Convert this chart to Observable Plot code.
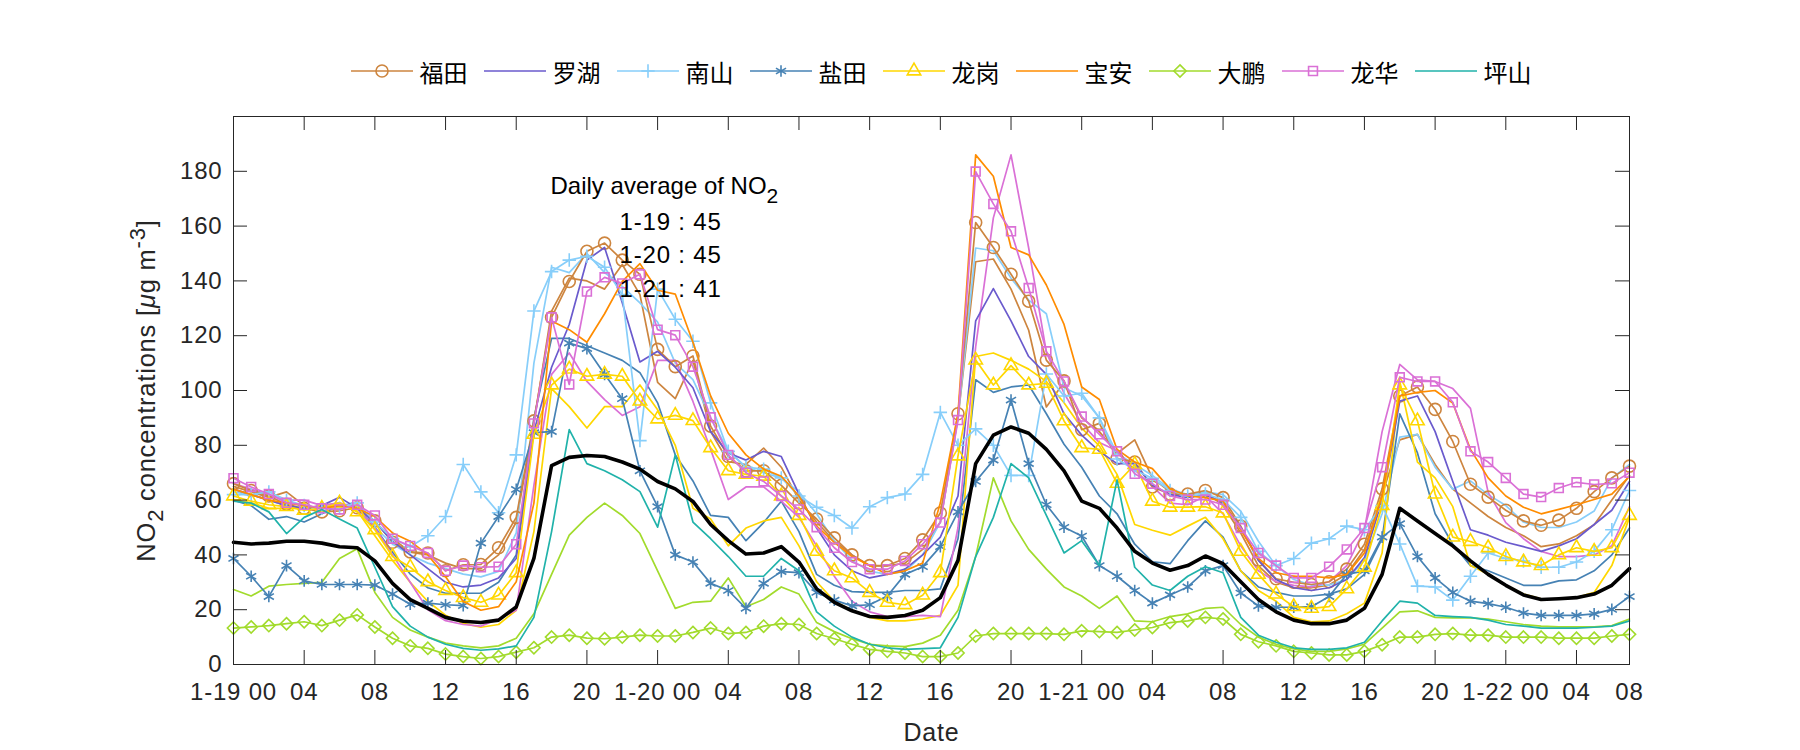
<!DOCTYPE html>
<html><head><meta charset="utf-8">
<script src="https://cdn.jsdelivr.net/npm/d3@7"></script>
<script src="https://cdn.jsdelivr.net/npm/@observablehq/plot@0.6"></script>
<style>
body{margin:0;background:#fff;}
#wrap{position:relative;width:1800px;height:750px;overflow:hidden;}
#legend{position:absolute;top:59px;left:243px;width:1396px;height:24px;display:flex;justify-content:center;align-items:center;font-family:"Noto Sans CJK SC",sans-serif;font-size:24px;color:#000;}
.item{display:flex;align-items:center;margin:0 8px;}
.item svg{margin-right:7px;display:block;}
#chart{position:absolute;top:0;left:0;}
</style></head><body><div id="wrap"><div id="chart"></div><div id="legend"></div></div>
<script>
// ---------- data (hourly, 1-19 00 .. end) ----------
const xTicks = [0,4,8,12,16,20,24,28,32,36,40,44,48,52,56,60,64,68,72,76,79];
const xTickLabels = ["1-19 00","04","08","12","16","20","1-20 00","04","08","12","16","20","1-21 00","04","08","12","16","20","1-22 00","04","08"];
const yTicks = [0,20,40,60,80,100,120,140,160,180];

const futian = [66,63.5,61.5,58.5,57,55.7,56.1,57.2,52.4,44.6,41.1,40.7,34.2,36.4,36.5,42.6,53.7,88.9,126.7,139.8,150.8,153.8,147.6,142.4,115,108.7,112.6,87,75.9,70.7,70.7,65.4,58.9,53.1,46.2,40,36.1,36.1,38.7,45.5,55.3,91.5,161.3,152.2,142.4,132.6,111.1,103.5,85.7,88,75.2,73.9,64.8,62.2,62.2,63.5,60.9,50.5,38.1,31.3,30,29.2,30.2,34.8,43.9,64.1,98,101.3,93.1,81.4,65.8,61.1,56.3,52.4,50.8,52.7,57,63.1,68.1,72.4];
const futian2 = [65,63,61,63,58,57,58,58,52,46,41,40,37,35,35,40,52,88,129,141,140,137,146,135,103,97,111,85,74,73,79,72,60,52,45,40,36,36,37,42,52,90,147,148,137,122,94,103,90,85,77,82,68,63,62,63,58,48,36,30,28,28,29,33,42,62,82,84,73,64,59,54,50,47,43,44,47,51,60,69];
const luohu = [64,62,60,58,57,58,61,57,52,45,40,35,30,28.3,29,31.6,38.7,85,108.5,124.1,147.6,152.2,132,110.4,114.3,108.5,101,85,77.2,74.6,77.8,75.9,62.2,49.8,40,34.2,31.6,32.9,34.8,40,46.5,61.5,125.4,137.2,125.4,112.4,105.9,91.5,83.7,77.8,73.3,73.3,65.4,62,61,62,59,50,38,31,28,27,28,31,39,60,96.1,98,85,66.8,49.2,47.2,44.6,43,41.3,43.3,45.9,51.1,56.3,66.8];
const nanshan = [62,62,63,60,58,57,57,59,52,46,43,47,54,73,63,55.4,76.5,129,143.4,147.6,149,145,135,81.7,137,126,118,95.5,77.8,72,71.3,68.1,61.5,57.4,54.4,49.8,57.6,60.9,62.2,69.4,92,80,86,80,69,69,106,98,99,90,75,71,68,63.5,61.5,62.2,60.2,53.7,41.3,36.1,38.7,44.3,45.9,50.5,49.2,58,44,28.6,28.3,23.5,32.2,40.7,38.7,37.8,35.5,35.5,37.4,41.3,49.2,63.5];
const nanshan2 = [63,62,60,58,57,57,58,59,50,44,40,37,35,33,32,34,48,110,145,143,150,143,138,132,125,110,104,90,78,72,70,68,63,55,45,38,34,33,34,40,52,90,152,151,141,133,128,101,98,90,77,73,69,64,62,63,62,56,45,36,31,29,29,31,38,55,83,84,72,64,67,62,58,52,50,50,52,56,68,73];
const yantian = [38.7,32.2,24.8,36.1,30.5,29.2,29.2,29.2,29,25.7,22,22.4,21.8,21.5,44.3,54,63.9,84.6,85,117.3,115.3,105.9,97,70.7,57.6,40,37.4,29.6,27,20.5,29.6,33.9,33.5,26.3,23.5,21.4,21.8,25,32.9,35.7,43,55.7,66.8,74.6,96.5,73.3,58.3,50.1,46.9,36.1,32.2,27,22.4,25.4,28.3,34.2,36.1,26.1,21.4,20.9,20.9,21.1,24.8,32.9,34.2,46.5,51.4,39.4,31.6,26.3,23.1,22.2,20.9,18.8,17.9,17.9,17.9,18.5,20.1,24.8];
const yantian2 = [60,58,53,54,52,55,58,57,50,41,33,28,26,26,26,30,40,90,119,119,116.3,113.7,111,106.5,95.5,76.5,67,54.4,53.7,45.2,51.8,59.6,48.5,32.9,28.9,26.6,26.3,26.3,27,27,27.6,45.9,103.9,99.3,101.3,102,91.5,80.4,72,61.5,55,43.9,37.5,36.8,45.2,52.4,46.5,34.2,28.3,26.3,25,25,25.7,27.6,32.9,45.9,91.5,77.2,55,43.9,36.1,34.2,31.6,28.9,28.9,30.5,30.9,34.2,40,49.8];
const longgang = [61.5,59.6,58.3,57.6,56.3,57,58.9,55.7,49.2,39.4,35.5,30.2,27,24.4,22.7,25.3,33.5,84,102,107.8,105.2,105.9,105.2,96.1,89.6,90.9,89,79.1,70.7,69.4,68.7,61.5,54.4,41.3,34.2,31.6,26.3,22.7,21.8,25.3,33.5,76.1,111.1,102,109.1,102,102.6,88.9,79.1,78.5,66.1,73,59.6,57.4,57.4,57.6,55.3,41.3,32.9,25.7,21.1,20.5,21.1,27.6,35.5,58,102,88.9,62.2,46.5,44.9,42.6,39.4,37.4,36.1,40,42.6,41.3,42.6,54.4];
const longgang2 = [60,59,57,57,57,58,59,56,47,38,30,23,18,15,13.6,14.6,19.8,48.5,100.7,94.1,86.3,94.1,94.1,102,93,80,57,53.1,43.3,49.8,52.4,53.7,43.3,30.2,23.1,19.8,17.2,15.9,15.9,16.6,17.9,28.9,112.4,113.7,111,107.8,103.3,95.5,86.3,79.8,69.4,51.1,49,47.2,50.5,53.7,45.9,34.2,27,23.1,17.2,15.6,15.9,18.5,22.4,40.7,103.3,73.9,68.1,57.6,36.1,32.9,28.9,25.7,24,24,24.4,26.3,36.1,53.7];
const baoan = [64,62,60,59,58,57,58,57,54,48,45,40,32,23,19.8,21.1,30.2,58.9,125.4,122.2,117.6,128,139.8,146.3,136.6,135.2,117.6,98,84.4,76.5,71.3,68.7,61.5,50.5,44.6,39.4,36.1,32.9,34.2,37,58.9,91.5,186,178.2,152.2,149.5,138.5,124.1,101.3,96.7,78.5,73.9,71.5,64.1,61.5,60.9,59.6,49.2,38.7,33.5,32.2,32.2,31.6,32.9,40.7,61.5,98,99.3,100,95.4,78.5,68.1,61.5,57.4,55,56.6,58.3,60.2,62.2,68.7];
const dapeng = [13.3,13.7,14.2,14.9,15.6,14.2,16.2,18.1,13.7,9.6,6.8,5.9,3.8,2.9,2.2,2.9,4.5,6.1,10,10.7,9.6,9.4,10,10.7,10.4,10.4,11.7,13.3,11.3,11.7,14,14.9,14.6,11.3,9.4,7.4,5.5,4.8,4.2,2.9,2.9,4.2,10.4,11.3,11.3,11.3,11.3,11,12.3,12,11.7,12.6,13.5,15.3,15.9,17.2,16.6,11,8.3,6.8,4.8,4.2,3.5,3.5,4.8,7.2,10,10,11,11.3,10.7,10.7,10,10,10,9.6,9.6,9.6,10.4,11];
const dapeng2 = [27.4,25,28.6,29.2,29.6,30,38.7,42.2,26.3,17.2,12.6,10,7.8,6.8,6.1,6.8,9.6,18.5,32.9,47.2,53.7,58.9,54.4,47.8,34.2,20.5,22.7,23.1,31.6,21.1,23.7,28.3,25.7,15.3,12,9.4,7.4,6.8,6.5,7.8,10.7,19.8,39.4,68.1,52.4,42,34.8,28.3,25,20.5,25,15.9,15.6,17.5,18.5,20.5,20.9,14.6,10,7.4,5.7,4.8,4.8,5.7,7.4,13.3,19.2,19.6,17.2,17,17,16.6,15.6,14.6,14,13.7,13.7,13.7,14.2,16.6];
const longhua = [68,64.8,62.2,59,58.3,57,56.6,58.3,54.4,45.9,43.3,40.7,34.2,36.1,35.5,35.7,43.9,88,126.7,102.2,136.1,141.3,139.1,142.4,122.2,120.2,108.7,90.2,76.5,70,66.8,61.5,56.6,50.1,42.6,37.4,34.8,34.8,37.8,43.9,51.8,89.2,179.9,168.1,158.1,137.4,114.3,103.3,90.5,84,77.8,69.6,66,61.5,60.2,60.2,58.3,49.8,40.7,36.1,31.6,31.6,35.7,42,49.8,72,104.8,103.3,103.3,95.7,77.8,73.9,68.1,62.2,61.1,64.4,66.5,65.7,66.1,70];
const longhua2 = [66,64,62,60,60,58,59,57,50,40,30,20,16,14.6,14,16.6,19.8,65.4,105.9,113.7,103.3,96.7,90.9,94.1,111,111,96,78.5,60.2,64.8,64.8,59.6,53.7,43.3,32.2,23.1,19.2,17.5,17.5,17.9,17.5,50,116,163,186,152,114,99,88,81,78,71,65,58.9,58.3,61.5,55,43.3,34.2,30.2,28.9,28.3,30.2,36.1,49.2,85,109.5,103.9,103.3,100.7,93.5,62.8,51.8,45.9,41.3,39.4,39.4,40,43.3,57.6];
const pingshan = [59.6,58.9,55.7,47.8,53.7,56.6,53.1,49.8,35.5,21.1,14,10,7.4,5.9,5.2,5.7,6.8,17.2,48.5,85.7,73.3,70.7,67.4,63.1,50.1,76.5,52,45.9,39.4,32.2,32.2,38.7,34.2,19.2,14,10,7.4,6.1,5.5,5.8,6.1,17.2,39.4,53.7,73.3,68.1,54.4,40.7,45.2,36.1,67.4,35.5,29,27,32.2,35.7,33.5,17.2,10.7,8.1,6.1,5.5,5.5,6.1,8.1,15.9,23.1,22.4,17.9,17.5,17.2,16.2,14.6,14,13.3,13.3,13.3,13.6,14,15.9];
const average = [44.6,44,44.3,45,45,44.3,43,42.6,37.8,29.6,23.7,20.5,17.2,15.8,15.3,16.2,21,38.7,72.6,75.6,76.3,75.9,73.9,71.3,66.8,64.1,59.5,51.1,45.2,40.3,40.7,43,37.4,27.6,22.7,19.6,17.5,17.2,17.9,19.8,24.4,38,73.3,83.7,86.7,84.4,78.5,70.7,59.6,57,49.8,41.3,37,34.4,36.1,39.6,36.8,30.2,23.7,19.2,16.2,14.9,14.9,16.2,20.5,32.9,57,52.4,47.8,43.3,37.8,32.9,28.9,25.4,23.7,24,24.4,25.7,28.9,35];

const avgDays = ["1-19","1-20","1-21"];
const avgValues = [45,45,41];

// ---------- series definitions ----------
const stations = [
  {name:"福田", color:"#CD853F", symbol:"circle",   r:6,   values:futian},
  {name:"罗湖", color:"#6A5ACD", symbol:null,       r:0,   values:luohu},
  {name:"南山", color:"#87CEFA", symbol:"plus",     r:4.4, values:nanshan},
  {name:"盐田", color:"#4682B4", symbol:"asterisk", r:5.5, values:yantian},
  {name:"龙岗", color:"#FFD700", symbol:"triangle", r:5,   values:longgang},
  {name:"宝安", color:"#FF8C00", symbol:null,       r:0,   values:baoan},
  {name:"大鹏", color:"#A2DB2C", symbol:"diamond2", r:5.5, values:dapeng},
  {name:"龙华", color:"#DA70D6", symbol:"square",   r:5,   values:longhua},
  {name:"坪山", color:"#20B2AA", symbol:null,       r:0,   values:pingshan}
];
const extras = [
  {color:"#CD853F", values:futian2},
  {color:"#87CEFA", values:nanshan2},
  {color:"#4682B4", values:yantian2},
  {color:"#FFD700", values:longgang2},
  {color:"#A2DB2C", values:dapeng2},
  {color:"#DA70D6", values:longhua2}
];
const rows = vals => vals.map((v,i)=>({h:i, v}));

const axisColor = "#262626";
const W = 1800, H = 750, mL = 233, mR = 171, mT = 116, mB = 86;
const frameW = W - mL - mR, frameH = H - mT - mB, tickLen = 14;

const marks = [];
for (const s of extras) marks.push(Plot.line(rows(s.values), {x:"h", y:"v", stroke:s.color, strokeWidth:1.7}));
for (const s of stations) {
  marks.push(Plot.line(rows(s.values), {x:"h", y:"v", stroke:s.color, strokeWidth:1.7}));
  if (s.symbol) marks.push(Plot.dot(rows(s.values), {x:"h", y:"v", symbol:s.symbol, r:s.r, stroke:s.color, fill:"none", strokeWidth:1.6}));
}
marks.push(Plot.line(rows(average), {x:"h", y:"v", stroke:"#000", strokeWidth:3.6}));

// axes: box + inward ticks on all sides
marks.push(
  Plot.frame({stroke:axisColor, strokeWidth:1}),
  Plot.tickX(xTicks, {x:d=>d, insetTop:frameH-tickLen, stroke:axisColor}),
  Plot.tickX(xTicks, {x:d=>d, insetBottom:frameH-tickLen, stroke:axisColor}),
  Plot.tickY(yTicks, {y:d=>d, insetRight:frameW-tickLen, stroke:axisColor}),
  Plot.tickY(yTicks, {y:d=>d, insetLeft:frameW-tickLen, stroke:axisColor}),
  Plot.text(xTicks, {x:d=>d, text:(d,i)=>xTickLabels[i], frameAnchor:"bottom", dy:28, textAnchor:"middle", lineAnchor:"middle", fill:axisColor}),
  Plot.text(yTicks, {y:d=>d, text:d=>String(d), frameAnchor:"left", dx:-11, textAnchor:"end", lineAnchor:"middle", fill:axisColor}),
  Plot.text(["Date"], {frameAnchor:"bottom", dy:68, textAnchor:"middle", lineAnchor:"middle", fontSize:25, fill:axisColor}),
  Plot.text(["YLABEL"], {frameAnchor:"left", dx:-87, rotate:-90, textAnchor:"middle", lineAnchor:"middle", fontSize:25.5, fill:axisColor}),
  // annotation
  Plot.text(["HEADING"], {x:()=>17.94, y:()=>174.5, textAnchor:"start", lineAnchor:"middle", fill:"#000"}),
  Plot.text(avgDays, {x:()=>21.85, y:(d,i)=>161.5 - i*12.3, text:(d,i)=>`${d} : ${avgValues[i]}`, textAnchor:"start", lineAnchor:"middle", fill:"#000"})
);

const svg = Plot.plot({
  width: W, height: H,
  marginLeft: mL, marginRight: mR, marginTop: mT, marginBottom: mB,
  x: {domain:[0,79], axis:null},
  y: {domain:[0,200], axis:null},
  style: {fontFamily:"'Liberation Sans', Arial, sans-serif", fontSize:"24px", letterSpacing:"0.8px", color:axisColor, background:"#fff", overflow:"visible"},
  marks
});

function rich(el, parts){
  const t = d3.select(el);
  t.text(null);
  for (const p of parts){
    const ts = t.append("tspan").text(p.t);
    if (p.dy) ts.attr("dy", p.dy);
    if (p.size) ts.attr("font-size", p.size);
    if (p.italic) ts.attr("font-style", "italic");
  }
}
d3.select(svg).selectAll("text").each(function(){
  if (this.textContent === "YLABEL") {
    rich(this, [{t:"NO"},{t:"2",dy:"8px",size:"22px"},{t:" concentrations [",dy:"-8px"},{t:"μ",italic:true},{t:"g m"},{t:"-3",dy:"-10px",size:"22px"},{t:"]",dy:"10px"}]);
  } else if (this.textContent === "HEADING") {
    rich(this, [{t:"Daily average of NO"},{t:"2",dy:"9px",size:"21px"}]);
    this.setAttribute("letter-spacing","0");
  }
});
document.getElementById("chart").appendChild(svg);

// ---------- legend ----------
const symMap = {circle:d3.symbolCircle, plus:d3.symbolPlus, asterisk:d3.symbolAsterisk, triangle:d3.symbolTriangle, diamond2:d3.symbolDiamond2, square:d3.symbolSquare};
const legend = d3.select("#legend");
for (const s of stations){
  const it = legend.append("div").attr("class","item");
  const sv = it.append("svg").attr("width",62).attr("height",24);
  sv.append("line").attr("x1",0).attr("x2",62).attr("y1",12).attr("y2",12).attr("stroke",s.color).attr("stroke-width",1.7);
  if (s.symbol) sv.append("path").attr("transform","translate(31,12)")
      .attr("d", d3.symbol(symMap[s.symbol], s.r*s.r*Math.PI)())
      .attr("fill","none").attr("stroke",s.color).attr("stroke-width",1.6);
  it.append("span").text(s.name);
}
</script></body></html>
